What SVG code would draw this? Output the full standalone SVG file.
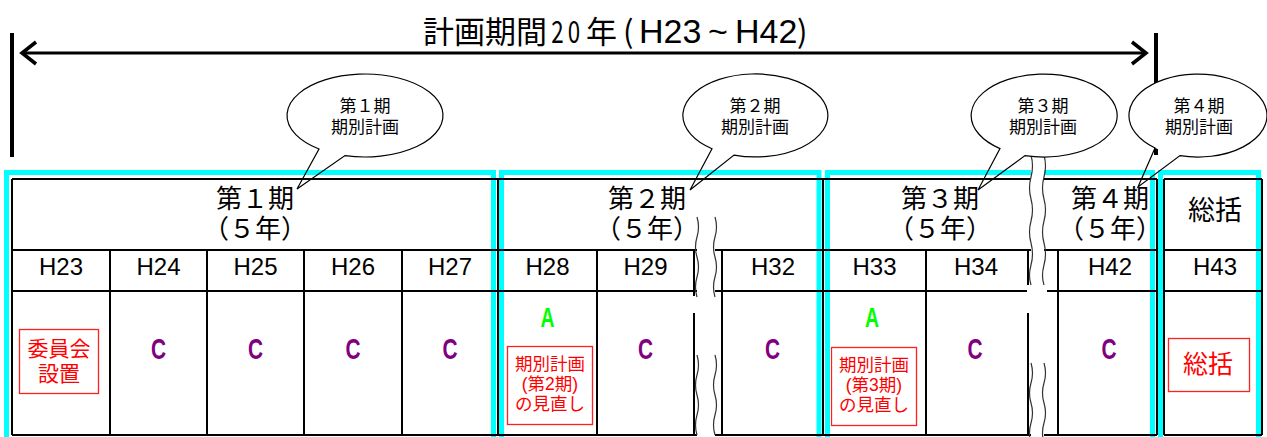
<svg xmlns="http://www.w3.org/2000/svg" width="1267" height="437" viewBox="0 0 1267 437">
<style>
.jp{font-family:"Noto Sans CJK JP","Noto Sans CJK SC",sans-serif;fill:#000}
.ml{font-family:"Liberation Sans","Noto Sans CJK JP","Noto Sans CJK SC",sans-serif;fill:#000}
.lat{font-family:"Liberation Sans",Arial,sans-serif;fill:#000}
.hd{font-size:26px;text-anchor:middle}
.bb{font-size:17px;text-anchor:middle}
.yr{font-size:24px;text-anchor:middle}
.red{fill:#ff0000}
.rbox{fill:none;stroke:#ff2020;stroke-width:1.3}
.cy{fill:none;stroke:#00ffff;stroke-width:5}
.ln{stroke:#000;stroke-width:2;fill:none}
.cc{font-family:"Liberation Sans",Arial,sans-serif;font-size:29px;font-weight:bold;fill:#800080;text-anchor:middle}
.aa{font-family:"Liberation Sans",Arial,sans-serif;font-size:27px;font-weight:bold;fill:#00ff00;text-anchor:middle}
.wv{fill:none;stroke:#333;stroke-width:1.2}
.bub{fill:#fff;stroke:none}
.bo{fill:none;stroke:#000;stroke-width:1.2}
</style>

<g id="frames">
<rect class="cy" x="6.5" y="172.5" width="487" height="272"/>
<rect class="cy" x="501.5" y="172.5" width="317.5" height="272"/>
<rect class="cy" x="827.5" y="172.5" width="325" height="272"/>
<rect class="cy" x="1160.5" y="172.5" width="98" height="272"/>
</g>

<g id="table">
<path class="ln" d="M12,179H1157M12,250H1157M12,291H1157M12,435H1157M1164,179H1262M1164,250H1262M1164,291H1262M1164,435H1262"/>
<path class="ln" d="M12,179V435M498,179V435M823,179V435M1157,179V435M1164,179V435M1262,179V435M110,250V435M207,250V435M304,250V435M402,250V435M597,250V435M694,250V435M722,250V435M926,250V435M1028,250V435M1058,250V435"/>
</g>

<g id="headers">
<text class="ml hd" y="208"><tspan x="255">第１期</tspan><tspan x="255" dy="30">（５年）</tspan></text>
<text class="ml hd" y="208"><tspan x="647">第２期</tspan><tspan x="647" dy="30">（５年）</tspan></text>
<text class="ml hd" y="208"><tspan x="940">第３期</tspan><tspan x="940" dy="30">（５年）</tspan></text>
<text class="ml hd" y="208"><tspan x="1110">第４期</tspan><tspan x="1110" dy="30">（５年）</tspan></text>
<text class="jp" x="1215" y="220" font-size="27" text-anchor="middle">総括</text>
</g>

<g id="years">
<text class="lat yr" x="61" y="275">H23</text>
<text class="lat yr" x="158.5" y="275">H24</text>
<text class="lat yr" x="255.5" y="275">H25</text>
<text class="lat yr" x="353" y="275">H26</text>
<text class="lat yr" x="450" y="275">H27</text>
<text class="lat yr" x="547.5" y="275">H28</text>
<text class="lat yr" x="645.5" y="275">H29</text>
<text class="lat yr" x="773" y="275">H32</text>
<text class="lat yr" x="874.5" y="275">H33</text>
<text class="lat yr" x="976" y="275">H34</text>
<text class="lat yr" x="1110" y="275">H42</text>
<text class="lat yr" x="1215" y="275">H43</text>
</g>

<g id="content">
<g id="iinkai">
<rect class="rbox" x="19.5" y="329.5" width="79" height="64"/>
<text class="ml red" y="356" font-size="21" text-anchor="middle"><tspan x="59">委員会</tspan><tspan x="59" dy="25">設置</tspan></text>
</g>
<text class="cc" transform="translate(158.5,359) scale(0.72,1)">C</text>
<text class="cc" transform="translate(255.5,359) scale(0.72,1)">C</text>
<text class="cc" transform="translate(353,359) scale(0.72,1)">C</text>
<text class="cc" transform="translate(450,359) scale(0.72,1)">C</text>
<text class="aa" transform="translate(547.5,327) scale(0.72,1)">A</text>
<g id="review2">
<rect class="rbox" x="507.5" y="346.5" width="85" height="78"/>
<text class="ml red" y="370" font-size="17.5" text-anchor="middle"><tspan x="550">期別計画</tspan><tspan x="550" dy="20">(第2期)</tspan><tspan x="550" dy="20">の見直し</tspan></text>
</g>
<text class="cc" transform="translate(645.5,359) scale(0.72,1)">C</text>
<text class="cc" transform="translate(772.5,359) scale(0.72,1)">C</text>
<text class="aa" transform="translate(872,327) scale(0.72,1)">A</text>
<g id="review3">
<rect class="rbox" x="831.5" y="347.5" width="85" height="78"/>
<text class="ml red" y="371" font-size="17.5" text-anchor="middle"><tspan x="874">期別計画</tspan><tspan x="874" dy="20">(第3期)</tspan><tspan x="874" dy="20">の見直し</tspan></text>
</g>
<text class="cc" transform="translate(975,359) scale(0.72,1)">C</text>
<text class="cc" transform="translate(1109,359) scale(0.72,1)">C</text>
<g id="soukatsu">
<rect class="rbox" x="1168.5" y="338.5" width="81" height="53"/>
<text class="jp red" x="1208" y="373" font-size="25" text-anchor="middle">総括</text>
</g>
</g>

<g id="breaks">
<rect fill="#fff" x="697" y="217" width="18" height="222"/>
<rect fill="#fff" x="693" y="296" width="24" height="17"/>
<path class="wv" d="M697,217q3,10 0,20t0,20t0,20t0,20M715,217q3,10 0,20t0,20t0,20t0,20M697,355q3,10 0,20t0,20t0,20t0,20M715,355q3,10 0,20t0,20t0,20t0,20"/>
<rect fill="#fff" x="1031" y="155" width="13" height="284"/>
<rect fill="#fff" x="1027" y="285" width="20" height="28"/>
<path class="wv" d="M1031,155q3,11 0,22t0,22t0,22t0,22t0,22t0,20M1044,155q3,11 0,22t0,22t0,22t0,22t0,22t0,20M1031,363q3,10 0,20t0,20t0,20t0,20M1044,363q3,10 0,20t0,20t0,20t0,20"/>
</g>

<g id="span">
<rect x="10" y="33" width="4" height="124" fill="#000"/>
<rect x="1154" y="33" width="4" height="122" fill="#000"/>
<path d="M22,53H1146" stroke="#000" stroke-width="3"/>
<path d="M36,42L22,53L36,64M1132,42L1146,53L1132,64" fill="none" stroke="#000" stroke-width="3.5"/>
<text y="43"><tspan class="jp" x="423" font-size="31">計画期間</tspan><tspan class="jp" x="586" font-size="31">年</tspan><tspan class="jp" x="623" font-size="31">(</tspan><tspan class="lat" x="639" font-size="34">H23</tspan><tspan class="lat" x="708" font-size="34">~</tspan><tspan class="lat" x="735" font-size="34">H42</tspan><tspan class="jp" x="797" font-size="31">)</tspan></text>
<text class="jp" transform="translate(557.5,43) scale(0.72,1)" font-size="31" text-anchor="middle">2</text>
<text class="jp" transform="translate(574,43) scale(0.72,1)" font-size="31" text-anchor="middle">0</text>
</g>

<g id="bubble1">
<ellipse class="bub" cx="365" cy="115.5" rx="78" ry="41.5"/>
<path class="bo" d="M319,149A78,41.5 0 1 1 345,155.6L297,189Z"/>
<text class="ml bb" y="112"><tspan x="365">第１期</tspan><tspan x="365" dy="21">期別計画</tspan></text>
</g>
<g id="bubble2">
<ellipse class="bub" cx="755.5" cy="115.5" rx="72.5" ry="41.5"/>
<path class="bo" d="M712,148.7A72.5,41.5 0 1 1 734,155.1L690,190Z"/>
<text class="ml bb" y="112"><tspan x="755">第２期</tspan><tspan x="755" dy="21">期別計画</tspan></text>
</g>
<g id="bubble3">
<ellipse class="bub" cx="1044" cy="115.5" rx="73" ry="41.5"/>
<path class="bo" d="M1000,148.6A73,41.5 0 1 1 1025,155.6L978,190Z"/>
<text class="ml bb" y="112"><tspan x="1043">第３期</tspan><tspan x="1043" dy="21">期別計画</tspan></text>
</g>
<g id="bubble4">
<ellipse class="bub" cx="1198" cy="115.5" rx="69" ry="41.5"/>
<path class="bo" d="M1155,148A69,41.5 0 1 1 1180,155.6L1138,187Z"/>
<text class="ml bb" y="112"><tspan x="1199">第４期</tspan><tspan x="1199" dy="21">期別計画</tspan></text>
</g>
</svg>
